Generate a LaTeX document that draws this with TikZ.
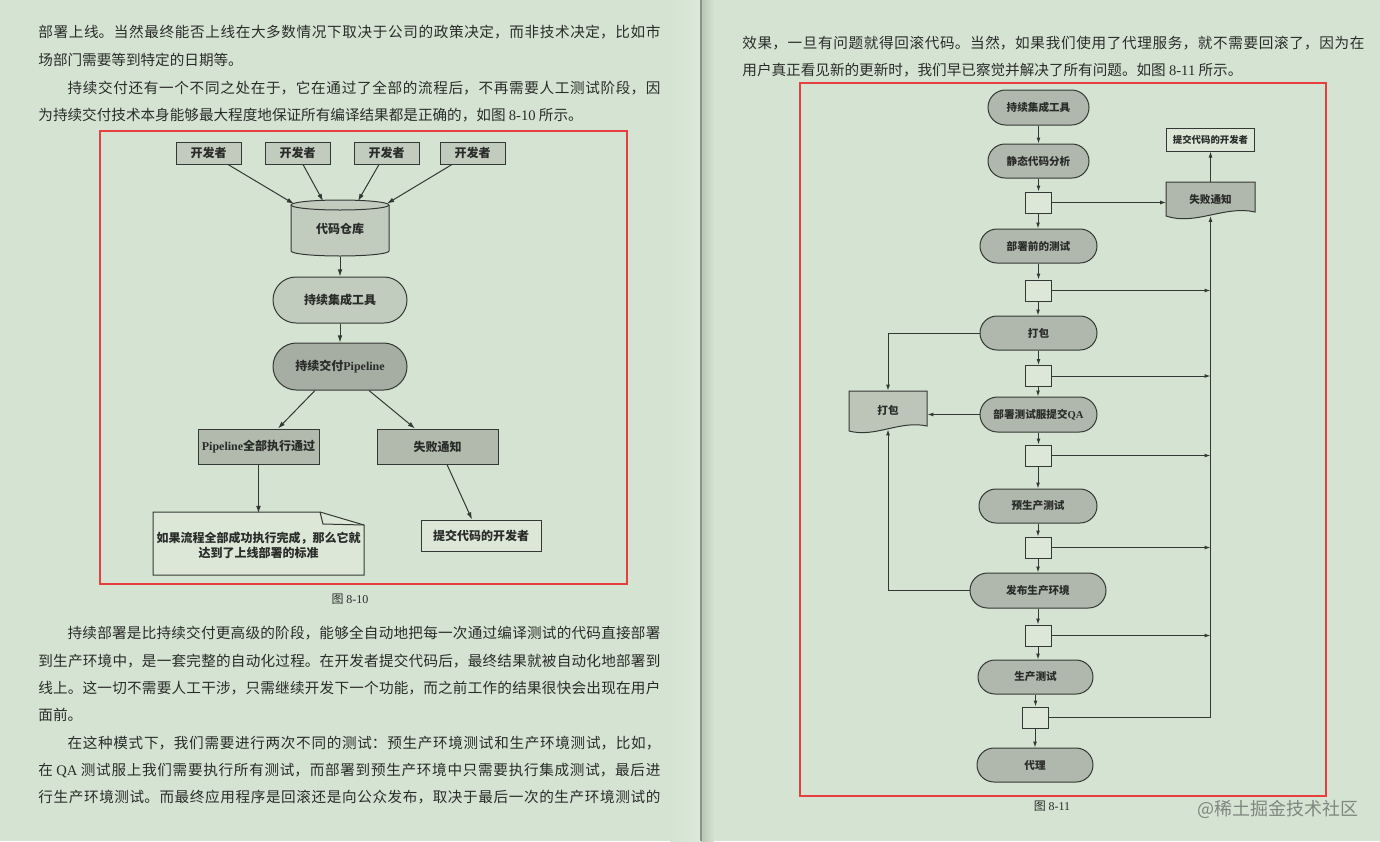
\documentclass[tikz,border=0pt]{standalone}
\usepackage{fontspec}
\setmainfont{Noto Sans CJK SC}
\newfontfamily\latinf{Liberation Serif}
\usetikzlibrary{arrows.meta,shapes.misc,calc}
\XeTeXlinebreaklocale "zh"
\XeTeXlinebreakskip=0pt plus 4pt
\definecolor{pagebg}{RGB}{213,228,210}
\definecolor{pagebgL}{RGB}{220,232,217}
\definecolor{ink}{RGB}{42,44,42}
\definecolor{lineink}{RGB}{52,56,52}
\definecolor{redbox}{RGB}{232,62,62}
\definecolor{fillA}{RGB}{194,204,190}
\definecolor{fillB}{RGB}{166,173,162}
\definecolor{fillC}{RGB}{178,186,174}
\definecolor{fillL}{RGB}{220,231,216}
\definecolor{fillS}{RGB}{176,183,172}
\definecolor{wmark}{RGB}{128,134,128}
\newcommand\bodyfont{\fontsize{7.3pt}{9pt}\selectfont}
\newcommand\jline[1]{\parbox{311pt}{\bodyfont\parfillskip=0pt\relax\noindent#1}}
\newcommand\dfa{\fontsize{6pt}{7.4pt}\selectfont\bfseries}
\newcommand\dfb{\fontsize{5.3pt}{6.4pt}\selectfont\bfseries}
\newcommand\dfc{\fontsize{4.7pt}{5.6pt}\selectfont\bfseries}
\tikzset{
  every node/.style={inner sep=0pt, text=ink},
  sz/.style 2 args={minimum width=#1*0.5pt, minimum height=#2*0.5pt},
  conn/.style={draw=lineink, line width=0.5pt},
  arr/.style={conn, -{Latex[length=3.6pt,width=2.4pt]}},
  arrb/.style={conn, -{Latex[length=3pt,width=2pt]}},
  rectA/.style={draw=lineink, line width=0.5pt, rectangle, font=\dfa},
  stadA/.style={draw=lineink, line width=0.5pt, rounded rectangle, font=\dfa},
  rectB/.style={draw=lineink, line width=0.5pt, rectangle, font=\dfb},
  stadB/.style={draw=lineink, line width=0.5pt, rounded rectangle, fill=fillS, font=\dfb},
  tinybox/.style={rectB, fill=fillL, sz={26}{21}},
  bodyline/.style={anchor=west, font=\bodyfont},
  caption/.style={font=\fontsize{6pt}{7pt}\selectfont}
}
\begin{document}
\begin{tikzpicture}[x=0.5pt,y=-0.5pt]
\useasboundingbox (0,0) rectangle (1380,841);
\fill[pagebg] (0,0) rectangle (1380,841);
% gutter
\shade[left color=pagebg, right color=pagebgL] (670,0) rectangle (700,841);
\shade[left color=black!14!pagebg, right color=pagebg] (701,0) rectangle (714,841);
\draw[black!35!pagebg, line width=0.6pt] (701,0) -- (701,841);

% ---------------- left page text ----------------
\node[bodyline] (t1) at (38,32) {\jline{部署上线。当然最终能否上线在大多数情况下取决于公司的政策决定，而非技术决定，比如市}};
\node[bodyline] (t2) at (38,60) {场部门需要等到特定的日期等。};
\node[bodyline] (t3) at (38,88) {\jline{\hspace*{2em}持续交付还有一个不同之处在于，它在通过了全部的流程后，不再需要人工测试阶段，因}};
\node[bodyline] (t4) at (38,115) {为持续交付技术本身能够最大程度地保证所有编译结果都是正确的，如图 {\latinf 8-10} 所示。};

\node[bodyline] (p1) at (38,633) {\jline{\hspace*{2em}持续部署是比持续交付更高级的阶段，能够全自动地把每一次通过编译测试的代码直接部署}};
\node[bodyline] (p2) at (38,661) {\jline{到生产环境中，是一套完整的自动化过程。在开发者提交代码后，最终结果就被自动化地部署到}};
\node[bodyline] (p3) at (38,688) {\jline{线上。这一切不需要人工干涉，只需继续开发下一个功能，而之前工作的结果很快会出现在用户}};
\node[bodyline] (p4) at (38,715) {面前。};
\node[bodyline] (p5) at (38,743) {\jline{\hspace*{2em}在这种模式下，我们需要进行两次不同的测试：预生产环境测试和生产环境测试，比如，}};
\node[bodyline] (p6) at (38,770) {\jline{在 {\latinf QA} 测试服上我们需要执行所有测试，而部署到预生产环境中只需要执行集成测试，最后进}};
\node[bodyline] (p7) at (38,797) {\jline{行生产环境测试。而最终应用程序是回滚还是向公众发布，取决于最后一次的生产环境测试的}};

% ---------------- right page text ----------------
\node[bodyline] (r1) at (742,43) {\jline{效果，一旦有问题就得回滚代码。当然，如果我们使用了代理服务，就不需要回滚了，因为在}};
\node[bodyline] (r2) at (742,70) {用户真正看见新的更新时，我们早已察觉并解决了所有问题。如图 {\latinf 8-11} 所示。};

% ---------------- figure 8-10 ----------------
\node[rectA, fill=fillA, sz={65}{22}] (dev1) at (208.5,153) {开发者};
\node[rectA, fill=fillA, sz={65}{22}] (dev2) at (297.5,153) {开发者};
\node[rectA, fill=fillA, sz={65}{22}] (dev3) at (386.5,153) {开发者};
\node[rectA, fill=fillA, sz={65}{22}] (dev4) at (472.5,153) {开发者};

\fill[fillA] (291,205) -- (291,251) arc[start angle=180, end angle=0, x radius=49, y radius=5] -- (389,205) arc[start angle=0, end angle=-180, x radius=49, y radius=5] -- cycle;
\draw[conn] (291,205) -- (291,251) arc[start angle=180, end angle=0, x radius=49, y radius=5] -- (389,205);
\draw[conn] (340,205) ellipse[x radius=49, y radius=5];
\node[sz={98}{56}, font=\dfa] (repo) at (340,229) {代码仓库};

\node[stadA, fill=fillA, sz={134}{46}] (ci1) at (340,300) {持续集成工具};
\node[stadA, fill=fillB, sz={134}{47}] (pipe) at (340,366.5) {持续交付{\latinf\bfseries Pipeline}};
\node[rectA, fill=fillC, sz={121}{35}] (pass) at (258.5,446.5) {{\latinf\bfseries Pipeline}全部执行通过};
\node[rectA, fill=fillC, sz={121}{35}] (fail1) at (437.5,446.5) {失败通知};

\fill[fillL] (153,512) -- (320,512) -- (364,525) -- (364,575) -- (153,575) -- cycle;
\draw[conn] (153,512) -- (320,512) -- (364,525) -- (364,575) -- (153,575) -- cycle;
\draw[conn] (320,512) -- (323,524) -- (364,525);
\node[sz={211}{63}, font=\dfa, align=center] (doc1) at (258.5,545) {如果流程全部成功执行完成，那么它就\\达到了上线部署的标准};
\node[rectA, fill=fillL, sz={120}{31}] (dev5) at (481,535.5) {提交代码的开发者};

\draw[arr] ($(dev1.south)+(19.5,0)$) -- ($(repo.north)+(-46,3.3)$);
\draw[arr] ($(dev2.south)+(5.5,0)$) -- ($(repo.north)+(-17,0.4)$);
\draw[arr] ($(dev3.south)+(-7.5,0)$) -- ($(repo.north)+(18,0.4)$);
\draw[arr] ($(dev4.south)+(-20.5,0)$) -- ($(repo.north)+(47,3)$);
\draw[arr] (repo.south) -- (ci1.north);
\draw[arr] (ci1.south) -- (pipe.north);
\draw[arr] ($(pipe.south)+(-25,0)$) -- ($(pass.north)+(19.5,0)$);
\draw[arr] ($(pipe.south)+(29,0)$) -- ($(fail1.north)+(-22.5,0)$);
\draw[arr] (pass.south) -- (pass.south |- doc1.north);
\draw[arr] ($(fail1.south)+(9.5,0)$) -- ($(dev5.north)+(-9,0)$);

\draw[redbox, line width=1.2pt] (100,131) rectangle (627,584);
\node[caption] (cap1) at (350,599) {图 {\latinf 8-10}};

% ---------------- figure 8-11 ----------------
\node[stadB, sz={101}{35}] (s1) at (1038.5,107.5) {持续集成工具};
\node[stadB, sz={101}{34}] (s2) at (1038.5,161) {静态代码分析};
\node[tinybox] (b1) at (1038,202.5) {};
\node[stadB, sz={117}{34}] (s3) at (1038.5,246) {部署前的测试};
\node[tinybox] (b2) at (1038,290.5) {};
\node[stadB, sz={117}{34}] (s4) at (1038.5,333) {打包};
\node[tinybox] (b3) at (1038,376) {};
\node[stadB, sz={117}{35}] (s5) at (1038.5,414.5) {部署测试服提交{\latinf\bfseries QA}};
\node[tinybox] (b4) at (1038,455.5) {};
\node[stadB, sz={118}{34}] (s6) at (1038,506) {预生产测试};
\node[tinybox] (b5) at (1038,547.5) {};
\node[stadB, sz={136}{35}] (s7) at (1038,590.5) {发布生产环境};
\node[tinybox] (b6) at (1038,635.5) {};
\node[stadB, sz={115}{34}] (s8) at (1035.5,677) {生产测试};
\node[tinybox] (b7) at (1035,717.5) {};
\node[stadB, sz={116}{34}] (s9) at (1035,765) {代理};

\node[rectB, fill=fillL, sz={88}{23}, font=\dfc] (dev6) at (1210.5,139.5) {提交代码的开发者};
\fill[fillS] (1166,182) -- (1255,182) -- (1255,212) .. controls (1225,205) and (1195,226) .. (1166,216) -- cycle;
\draw[conn] (1166,182) -- (1255,182) -- (1255,212) .. controls (1225,205) and (1195,226) .. (1166,216) -- cycle;
\node[sz={88}{33}, font=\dfb] (fail2) at (1210.5,199) {失败通知};

\fill[fillS!70!fillL] (849,391) -- (927,391) -- (927,426) .. controls (900,420) and (875,438) .. (849,431) -- cycle;
\draw[conn] (849,391) -- (927,391) -- (927,426) .. controls (900,420) and (875,438) .. (849,431) -- cycle;
\node[sz={78}{38}, font=\dfb] (pack2) at (888,410) {打包};

\draw[arrb] (s1.south) -- (s1.south |- s2.north);
\draw[arrb] (s2.south) -- (s2.south |- b1.north);
\draw[arrb] (b1.south) -- (b1.south |- s3.north);
\draw[arrb] (s3.south) -- (s3.south |- b2.north);
\draw[arrb] (b2.south) -- (b2.south |- s4.north);
\draw[arrb] (s4.south) -- (s4.south |- b3.north);
\draw[arrb] (b3.south) -- (b3.south |- s5.north);
\draw[arrb] (s5.south) -- (s5.south |- b4.north);
\draw[arrb] (b4.south) -- (b4.south |- s6.north);
\draw[arrb] (s6.south) -- (s6.south |- b5.north);
\draw[arrb] (b5.south) -- (b5.south |- s7.north);
\draw[arrb] (s7.south) -- (s7.south |- b6.north);
\draw[arrb] (b6.south) -- (b6.south |- s8.north);
\draw[arrb] (s8.south) -- (s8.south |- b7.north);
\draw[arrb] (b7.south) -- (b7.south |- s9.north);

\draw[arrb] (b1.east) -- (b1.east -| fail2.west);
\draw[arrb] (fail2.north) -- (fail2.north |- dev6.south);
\draw[arrb] (b2.east) -- (b2.east -| fail2.south);
\draw[arrb] (b3.east) -- (b3.east -| fail2.south);
\draw[arrb] (b4.east) -- (b4.east -| fail2.south);
\draw[arrb] (b5.east) -- (b5.east -| fail2.south);
\draw[arrb] (b6.east) -- (b6.east -| fail2.south);
\draw[arrb] (b7.east) -- (b7.east -| fail2.south) -- (fail2.south);

\draw[arrb] (s4.west) -- (s4.west -| pack2.north) -- (pack2.north);
\draw[arrb] (s5.west) -- (s5.west -| pack2.east);
\draw[arrb] (s7.west) -- (s7.west -| pack2.south) -- (pack2.south);

\draw[redbox, line width=1.2pt] (800,83) rectangle (1326,796);
\node[caption] (cap2) at (1052,806) {图 {\latinf 8-11}};
\node[font=\fontsize{9pt}{10pt}\selectfont, text=wmark, anchor=west] (wm) at (1197,809) {@稀土掘金技术社区};
\end{tikzpicture}
\end{document}
